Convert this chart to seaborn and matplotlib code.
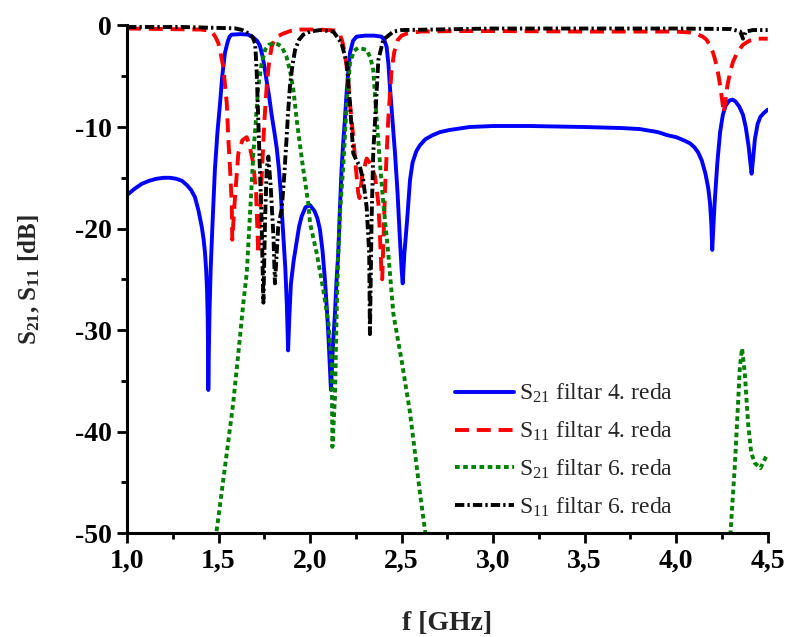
import numpy as np
import pandas as pd
import matplotlib
matplotlib.use("Agg")
import matplotlib.pyplot as plt
from matplotlib.ticker import MultipleLocator, FuncFormatter
import seaborn as sns

# S21, filtar 4. reda
f_s21_4 = [1.0, 1.04, 1.08, 1.12, 1.16, 1.2, 1.235, 1.27, 1.3, 1.326, 1.35, 1.371, 1.39,
           1.408, 1.418, 1.426, 1.432, 1.437, 1.441, 1.444, 1.447, 1.451, 1.457, 1.467,
           1.48, 1.494, 1.508, 1.52, 1.535, 1.55, 1.56, 1.572, 1.62, 1.662, 1.69, 1.71,
           1.726, 1.74, 1.752, 1.763, 1.778, 1.79, 1.805, 1.818, 1.83, 1.84, 1.846, 1.855,
           1.865, 1.873, 1.88, 1.886, 1.895, 1.91, 1.927, 1.94, 1.954, 1.975, 2.0, 2.025,
           2.04, 2.054, 2.068, 2.081, 2.092, 2.1, 2.108, 2.114, 2.125, 2.136, 2.145, 2.154,
           2.163, 2.172, 2.18, 2.19, 2.2, 2.21, 2.218, 2.235, 2.254, 2.3, 2.35, 2.39,
           2.405, 2.418, 2.428, 2.436, 2.45, 2.464, 2.478, 2.49, 2.5, 2.506, 2.515, 2.53,
           2.546, 2.56, 2.58, 2.6, 2.63, 2.67, 2.71, 2.76, 2.87, 3.0, 3.2, 3.5, 3.7, 3.8,
           3.9, 3.95, 4.0, 4.04, 4.075, 4.1, 4.12, 4.14, 4.16, 4.175, 4.185, 4.192, 4.197,
           4.203, 4.21, 4.225, 4.24, 4.255, 4.27, 4.29, 4.308, 4.325, 4.345, 4.365, 4.38,
           4.395, 4.405, 4.412, 4.42, 4.43, 4.445, 4.46, 4.48, 4.5]
s21_4 = [-16.7, -16.1, -15.6, -15.3, -15.1, -15.0, -15.0, -15.1, -15.3, -15.7, -16.2, -16.9, -18.2,
         -19.8, -21.0, -22.4, -24.0, -26.0, -29.0, -35.9, -32.0, -28.0, -24.0, -19.5,
         -14.2, -10.5, -7.7, -5.0, -2.7, -1.6, -1.1, -0.9, -0.85, -0.9, -1.2, -1.5,
         -2.0, -3.0, -4.2, -5.5, -7.2, -8.8, -10.5, -12.1, -14.2, -16.5, -18.4, -21.0,
         -24.0, -27.5, -32.0, -29.0, -25.5, -23.2, -21.3, -19.8, -18.8, -17.9, -17.7, -18.3,
         -19.0, -20.1, -22.2, -25.0, -28.0, -30.5, -33.5, -35.9, -31.5, -28.3, -25.0, -22.4,
         -18.0, -14.2, -11.8, -9.3, -6.5, -4.3, -2.7, -1.5, -1.1, -1.0, -1.0, -1.1,
         -1.4, -2.1, -3.8, -6.0, -9.3, -12.6, -16.5, -20.8, -24.0, -25.4, -22.5, -19.2,
         -15.2, -13.5, -12.4, -11.8, -11.2, -10.8, -10.5, -10.3, -10.0, -9.9, -9.9, -10.0, -10.1, -10.2,
         -10.5, -10.8, -11.0, -11.3, -11.6, -12.0, -12.5, -13.3, -14.6, -16.0, -17.5, -19.5, -22.1,
         -20.0, -17.5, -13.5, -10.5, -8.8, -7.9, -7.4, -7.3, -7.5, -8.0, -8.8, -10.0,
         -11.8, -13.5, -14.6, -13.2, -11.2, -9.7, -9.0, -8.6, -8.3]

# S11, filtar 4. reda
f_s11_4 = [1.0, 1.2, 1.4, 1.45, 1.462, 1.471, 1.485, 1.499, 1.512, 1.526, 1.545, 1.553,
           1.563, 1.572, 1.575, 1.59, 1.608, 1.63, 1.654, 1.669, 1.69, 1.705, 1.717, 1.726,
           1.735, 1.75, 1.763, 1.775, 1.79, 1.805, 1.82, 1.853, 1.9, 1.945, 2.05, 2.14,
           2.152, 2.163, 2.175, 2.19, 2.205, 2.218, 2.236, 2.25, 2.263, 2.27, 2.285, 2.309,
           2.33, 2.355, 2.373, 2.382, 2.39, 2.394, 2.41, 2.427, 2.445, 2.46, 2.48, 2.5,
           2.527, 2.6, 2.8, 3.0, 3.5, 4.0, 4.08, 4.12, 4.145, 4.166, 4.185, 4.2, 4.21,
           4.22, 4.23, 4.24, 4.25, 4.26, 4.27, 4.28, 4.295, 4.31, 4.335, 4.365, 4.4,
           4.44, 4.5]
s11_4 = [-0.3, -0.35, -0.4, -0.5, -0.6, -0.8, -1.2, -1.75, -2.8, -4.1, -7.7, -11.0,
         -14.2, -17.5, -21.1, -16.9, -12.6, -11.3, -11.0, -11.8, -13.6, -16.5, -22.5, -19.0,
         -15.2, -9.5, -6.0, -3.8, -2.1, -1.4, -1.1, -0.8, -0.5, -0.4, -0.4, -0.5,
         -0.6, -0.9, -1.5, -2.7, -4.8, -7.7, -11.0, -14.0, -16.5, -17.0, -14.8, -13.1,
         -13.6, -14.9, -17.5, -20.8, -24.4, -25.0, -15.9, -9.3, -4.4, -2.6, -1.4, -1.0,
         -0.8, -0.6, -0.55, -0.55, -0.6, -0.6, -0.7, -0.9, -1.1, -1.4, -2.0, -2.6, -3.2,
         -3.9, -4.8, -5.9, -7.2, -8.6, -7.3, -5.9, -4.6, -3.6, -2.6, -1.9, -1.5,
         -1.3, -1.3]

# S21, filtar 6. reda
f_s21_6 = [1.47, 1.49, 1.545, 1.58, 1.608, 1.635, 1.654, 1.68, 1.69, 1.7, 1.717, 1.735,
           1.754, 1.775, 1.8, 1.825, 1.845, 1.87, 1.89, 1.91, 1.927, 1.945, 1.963, 1.99,
           2.0, 2.036, 2.072, 2.1, 2.118, 2.122, 2.136, 2.145, 2.154, 2.165, 2.18, 2.2,
           2.218, 2.24, 2.263, 2.309, 2.33, 2.345, 2.364, 2.382, 2.4, 2.427, 2.455, 2.5,
           2.545, 2.6, 2.63, 2.66, 4.28, 4.297, 4.32, 4.339, 4.348, 4.36, 4.375, 4.393,
           4.41, 4.43, 4.46, 4.49, 4.5]
s21_6 = [-53.0, -49.7, -42.1, -37.2, -32.3, -27.4, -24.4, -15.9, -12.6, -10.3, -6.0, -3.8,
         -2.4, -1.9, -1.75, -1.85, -2.1, -3.0, -4.4, -6.5, -9.3, -11.8, -14.2, -17.5,
         -19.5, -22.4, -26.0, -29.3, -33.3, -41.5, -36.6, -28.3, -22.4, -18.0, -14.2, -7.7,
         -3.7, -2.5, -2.2, -2.4, -3.2, -4.4, -9.3, -13.6, -17.5, -22.4, -28.4, -33.0,
         -38.0, -46.0, -50.0, -53.0, -53.0, -49.9, -43.5, -36.9, -33.6, -31.8, -34.3, -39.2,
         -42.1, -43.1, -43.6, -42.5, -42.2]

# S11, filtar 6. reda
f_s11_6 = [1.0, 1.3, 1.59, 1.63, 1.662, 1.685, 1.7, 1.708, 1.717, 1.726, 1.735, 1.745,
           1.754, 1.763, 1.772, 1.785, 1.8, 1.808, 1.826, 1.845, 1.86, 1.872, 1.88, 1.89,
           1.903, 1.918, 1.94, 1.963, 2.0, 2.054, 2.127, 2.172, 2.2, 2.218, 2.236, 2.254,
           2.272, 2.29, 2.309, 2.323, 2.327, 2.336, 2.345, 2.36, 2.373, 2.4, 2.455, 2.5,
           3.0, 3.5, 4.0, 4.3, 4.35, 4.365, 4.38, 4.42, 4.5]
s11_6 = [-0.15, -0.15, -0.28, -0.45, -0.77, -1.1, -1.8, -4.4, -9.3, -14.2, -19.2, -27.3,
         -19.2, -14.2, -12.9, -15.9, -20.8, -25.4, -19.8, -18.1, -14.5, -11.0, -8.5, -6.0,
         -4.0, -2.4, -1.4, -0.9, -0.6, -0.45, -0.6, -1.75, -3.7, -7.7, -12.6, -13.3,
         -13.9, -15.2, -17.9, -22.4, -30.4, -19.2, -12.6, -7.7, -3.4, -1.4, -0.6, -0.45,
         -0.3, -0.3, -0.3, -0.35, -0.6, -1.3, -0.6, -0.45, -0.45]

labels = [r"S$_{\mathrm{21}}$ filtar 4. reda", r"S$_{\mathrm{11}}$ filtar 4. reda",
          r"S$_{\mathrm{21}}$ filtar 6. reda", r"S$_{\mathrm{11}}$ filtar 6. reda"]

sns.set_theme(style="ticks")
plt.rcParams["font.family"] = ["Liberation Serif", "DejaVu Serif"]
plt.rcParams["mathtext.fontset"] = "custom"
plt.rcParams["mathtext.rm"] = "Liberation Serif"
plt.rcParams["mathtext.it"] = "Liberation Serif:italic"
plt.rcParams["mathtext.bf"] = "Liberation Serif:bold"
plt.rcParams["axes.unicode_minus"] = False

fig = plt.figure(figsize=(7.89, 6.37), dpi=100)
ax = fig.add_axes([0.161, 0.163, 0.812, 0.797])

series = [
    (f_s21_4, s21_4, "#0000ff", None),
    (f_s11_4, s11_4, "#ff0000", (3.6, 2.0)),
    (f_s21_6, s21_6, "#008000", (1.2, 0.9)),
    (f_s11_6, s11_6, "#000000", (2.4, 0.8, 0.6, 0.8)),
]
for (fx, sy, col, dash), lab in zip(series, labels):
    df = pd.DataFrame({"f": fx, "s": sy})
    sns.lineplot(data=df, x="f", y="s", ax=ax, color=col, linewidth=2.8,
                 sort=False, estimator=None, label=lab)
    if dash is not None:
        ax.get_lines()[-1].set_dashes(dash)

ax.set_xlim(1.0, 4.5)
ax.set_ylim(-50, 0)
ax.xaxis.set_major_locator(MultipleLocator(0.5))
ax.xaxis.set_minor_locator(MultipleLocator(0.25))
ax.yaxis.set_major_locator(MultipleLocator(10))
ax.yaxis.set_minor_locator(MultipleLocator(5))
ax.xaxis.set_major_formatter(FuncFormatter(lambda v, p: f"{v:.1f}".replace(".", ",")))
ax.yaxis.set_major_formatter(FuncFormatter(lambda v, p: f"{v:.0f}"))

sns.despine(ax=ax)
for side in ["left", "bottom"]:
    ax.spines[side].set_linewidth(2.2)
    ax.spines[side].set_color("black")
ax.tick_params(which="major", direction="out", length=7, width=2, colors="black",
               labelsize=20, pad=4)
ax.tick_params(which="minor", direction="out", length=4.5, width=2, colors="black")
for t in ax.get_xticklabels() + ax.get_yticklabels():
    t.set_fontweight("bold")

ax.set_xlabel("f [GHz]", fontsize=20, fontweight="bold", labelpad=27)
ax.set_ylabel(r"S$_{\mathbf{21}}$, S$_{\mathbf{11}}$ [dB]", fontsize=18, fontweight="bold",
              labelpad=24)

leg = ax.legend(loc="lower left", bbox_to_anchor=(0.49, 0.0), frameon=False, fontsize=17,
                handlelength=2.5, handletextpad=0.2, labelspacing=0.62, borderaxespad=0.2)

fig.savefig("out.png", dpi=100)
